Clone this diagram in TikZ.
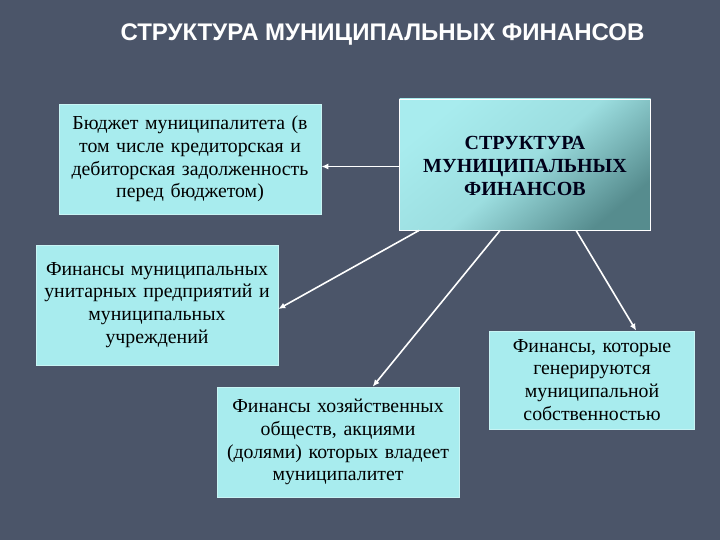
\documentclass[tikz,border=0pt]{standalone}
\usepackage{fontspec}
\setmainfont{Liberation Serif}
\newfontfamily\titlefont{Liberation Sans}
\usetikzlibrary{arrows.meta}
\definecolor{bgc}{RGB}{75,85,105}
\definecolor{boxc}{RGB}{168,236,238}
\definecolor{boxedge}{RGB}{200,244,244}
\definecolor{darkteal}{RGB}{86,140,142}
\tikzset{
  infobox/.style={fill=boxc, draw=boxedge, line width=0.6pt, align=center, inner sep=0pt,
    font=\fontsize{19.8}{22.8}\selectfont, text=black},
  arr/.style={draw=white, line width=1.6pt, -{Latex[length=7pt,width=6pt]}}
}
\begin{document}
\begin{tikzpicture}[x=1pt,y=-1pt]
\fill[bgc] (0,0) rectangle (720,540);
\useasboundingbox (0,0) rectangle (720,540);
\node[font=\titlefont\bfseries\fontsize{24}{26}\selectfont, text=white, inner sep=0pt] (title) at (382.5,35) {СТРУКТУРА МУНИЦИПАЛЬНЫХ ФИНАНСОВ};
% center box
\node[minimum width=251pt, minimum height=131pt, inner sep=0pt, draw=white, line width=0.8pt,
  top color=boxc, bottom color=darkteal, middle color=boxc!85!darkteal, shading angle=40] (ctr) at (525,164.5) {};
\node[align=center, font=\bfseries\fontsize{20}{23}\selectfont, text=black!90!blue, inner sep=0pt] (ctrtxt) at (525,166) {СТРУКТУРА\\МУНИЦИПАЛЬНЫХ\\ФИНАНСОВ};
\node[infobox, minimum width=262pt, minimum height=110pt, text width=258pt] (bud) at (190,159)
  {Бюджет муниципалитета (в\\том числе кредиторская и\\дебиторская задолженность\\перед бюджетом)};
\node[infobox, minimum width=242pt, minimum height=120pt, text width=238pt] (unit) at (157,305)
  {Финансы муниципальных\\унитарных предприятий и\\муниципальных\\учреждений};
\node[infobox, minimum width=242pt, minimum height=110pt, text width=238pt] (econ) at (338,442)
  {Финансы хозяйственных\\обществ, акциями\\(долями) которых владеет\\муниципалитет};
\node[infobox, minimum width=205pt, minimum height=98pt, text width=201pt] (gen) at (592,380)
  {Финансы, которые\\генерируются\\муниципальной\\собственностью};
\draw[arr] ([yshift=-2pt]ctr.west) -- ([yshift=-2pt]ctr.west -| bud.east);
\draw[arr] ([xshift=20pt]ctr.south west) -- ([yshift=-4pt]unit.east);
\draw[arr] ([xshift=101pt]ctr.south west) -- ([xshift=156pt]econ.north west);
\draw[arr] ([xshift=177pt]ctr.south west) -- ([xshift=147pt]gen.north west);
\end{tikzpicture}
\end{document}
